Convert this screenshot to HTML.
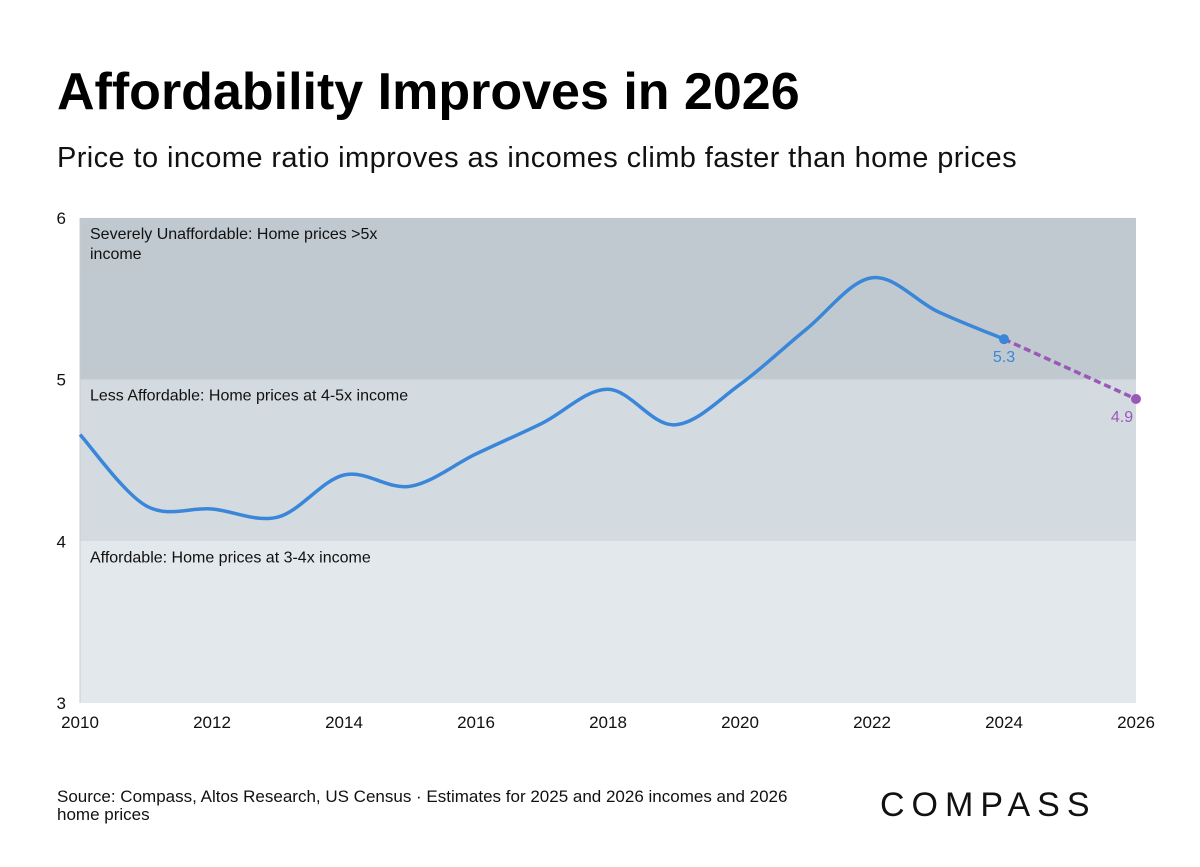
<!DOCTYPE html>
<html><head><meta charset="utf-8"><style>
body{margin:0;width:1200px;height:867px;background:#fff;font-family:"Liberation Sans",sans-serif;overflow:hidden;position:relative}
.t{position:absolute;left:57px;top:62px;font-size:52px;font-weight:bold;color:#000;letter-spacing:0px}
.s{position:absolute;left:57px;top:142px;font-size:29px;color:#111;letter-spacing:0.4px}
.src{position:absolute;left:57px;top:788px;font-size:17px;color:#111;width:770px;line-height:18px}
.logo{position:absolute;left:880px;top:786px;font-size:34px;letter-spacing:7px;color:#111}
</style></head><body>
<div class="t">Affordability Improves in 2026</div>
<div class="s">Price to income ratio improves as incomes climb faster than home prices</div>
<svg id="c" width="1200" height="867" style="position:absolute;left:0;top:0"></svg>
<div class="src">Source: Compass, Altos Research, US Census · Estimates for 2025 and 2026 incomes and 2026 home prices</div>
<div class="logo">COMPASS</div>
<script>
const years=[2010,2011,2012,2013,2014,2015,2016,2017,2018,2019,2020,2021,2022,2023,2024];
const ratios=[4.66,4.22,4.2,4.15,4.41,4.34,4.54,4.73,4.94,4.72,4.97,5.31,5.63,5.42,5.25];
const fYears=[2024,2026];
const fRatios=[5.25,4.88];
const xTicks=[2010,2012,2014,2016,2018,2020,2022,2024,2026];
const yTicks=[3,4,5,6];
const bands=[{lo:5,hi:6,c:"#c0c9d0",label:"Severely Unaffordable: Home prices >5x",label2:"income"},{lo:4,hi:5,c:"#d3dbe0",label:"Less Affordable: Home prices at 4-5x income"},{lo:3,hi:4,c:"#e3e8ec",label:"Affordable: Home prices at 3-4x income"}];
const X=v=>80+(v-2010)*(1056/16), Y=v=>703-(v-3)*161.7;
const svg=document.getElementById('c'),NS="http://www.w3.org/2000/svg";
function mk(t,a,txt){const e=document.createElementNS(NS,t);for(const k in a)e.setAttribute(k,a[k]);if(txt!=null)e.textContent=txt;svg.appendChild(e);return e;}
bands.forEach(b=>{
 const r=mk('rect',{x:X(2010),y:Y(b.hi),width:X(2026)-X(2010),height:Y(b.lo)-Y(b.hi),fill:b.c});
 
 
 const t=mk('text',{x:90,y:Y(b.hi)+21,'font-size':16,fill:'#111'},b.label);
 
 
 if(b.label2){const t2=mk('text',{x:90,y:Y(b.hi)+41,'font-size':16,fill:'#111'},b.label2);
 
 }
});
const ax=mk('line',{x1:80,y1:Y(6),x2:80,y2:Y(3),stroke:'#ccc'});

yTicks.forEach(v=>{const t=mk('text',{x:66,y:Y(v)+6,'font-size':17,'text-anchor':'end',fill:'#111'},v);
 });
xTicks.forEach(v=>{const t=mk('text',{x:X(v),y:728,'font-size':17,'text-anchor':'middle',fill:'#111'},v);
 });
const pts=years.map((y,i)=>[X(y),Y(ratios[i])]);
let d='M'+pts[0];
for(let i=0;i<pts.length-1;i++){const p0=pts[Math.max(i-1,0)],p1=pts[i],p2=pts[i+1],p3=pts[Math.min(i+2,pts.length-1)];
 d+=` C${p1[0]+(p2[0]-p0[0])/6},${p1[1]+(p2[1]-p0[1])/6} ${p2[0]-(p3[0]-p1[0])/6},${p2[1]-(p3[1]-p1[1])/6} ${p2[0]},${p2[1]}`;}
const ln=mk('path',{d:d,fill:'none',stroke:'#3a87da','stroke-width':3.5});

const fl=mk('line',{x1:X(fYears[0]),y1:Y(fRatios[0]),x2:X(fYears[1]),y2:Y(fRatios[1]),stroke:'#9b59b6','stroke-width':3.5,'stroke-dasharray':'7,4'});

const d1=mk('circle',{cx:X(years[years.length-1]),cy:Y(ratios[ratios.length-1]),r:5,fill:'#3a87da'});

const d2=mk('circle',{cx:X(fYears[1]),cy:Y(fRatios[1]),r:5,fill:'#9b59b6'});

const l1=mk('text',{x:X(2024),y:Y(ratios[ratios.length-1])+23,'font-size':16,'text-anchor':'middle',fill:'#3a87da'},ratios[ratios.length-1].toFixed(1));

const l2=mk('text',{x:X(2026)-14,y:Y(fRatios[1])+23,'font-size':16,'text-anchor':'middle',fill:'#9b59b6'},fRatios[1].toFixed(1));

</script>
</body></html>
